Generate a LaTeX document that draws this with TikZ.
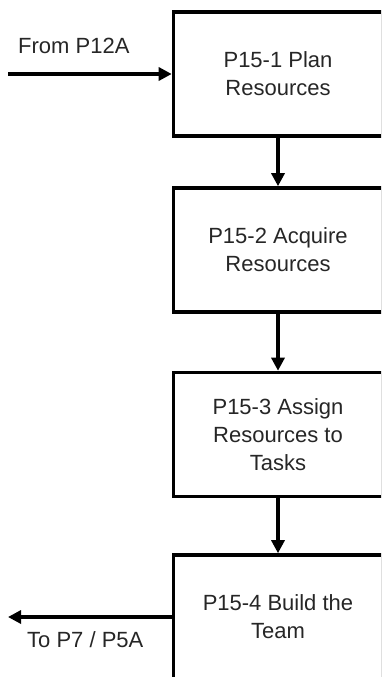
\documentclass[tikz,border=0pt]{standalone}
\usepackage{fontspec}
\setmainfont{Liberation Sans}
\usetikzlibrary{arrows.meta}
\begin{document}
\begin{tikzpicture}[x=1pt,y=-1pt,
  proc/.style={draw=black, line width=3.6pt, minimum width=209pt, minimum height=124pt,
    align=center, inner sep=0pt, font=\fontsize{22}{28}\selectfont, text=black!85},
  flow/.style={line width=3.2pt, -{Triangle[width=13pt,length=13pt]}},
  lbl/.style={inner sep=0pt, font=\fontsize{22}{26}\selectfont, text=black!85}]
\useasboundingbox (0,0) rectangle (381,677);
\begin{scope}
\clip (0,0) rectangle (381,677);
\node[proc] (p1) at (278,74) {P15-1 Plan\\Resources};
\node[proc] (p2) at (278,250) {P15-2 Acquire\\Resources};
\node[proc] (p3) at (278,434.5) {P15-3 Assign\\Resources to\\Tasks};
\node[proc] (p4) at (278,617) {P15-4 Build the\\Team};
\coordinate (in) at (8,74);
\coordinate (out) at (8,617);
\draw[flow] (in) -- (p1.west);
\draw[flow] (p1) -- (p2);
\draw[flow] (p2) -- (p3);
\draw[flow] (p3) -- (p4);
\draw[flow] (p4.west) -- (out);
\node[lbl, anchor=base west] (l1) at (18,53) {From P12A};
\node[lbl, anchor=base west] (l2) at (27,647) {To P7 / P5A};
\end{scope}
\end{tikzpicture}
\end{document}
